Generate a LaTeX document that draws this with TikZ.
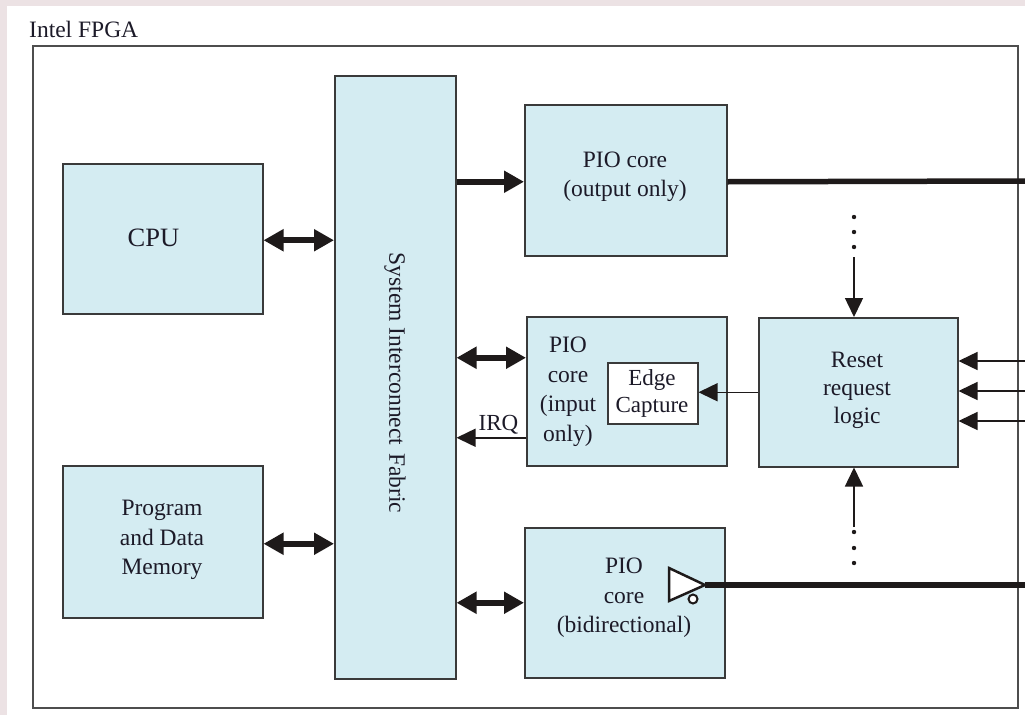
\documentclass[tikz,border=0pt]{standalone}
\usepackage{fontspec}
\setmainfont{Liberation Serif}
\usetikzlibrary{arrows.meta,calc}
\definecolor{bgpink}{RGB}{236,226,228}
\definecolor{boxfill}{RGB}{212,236,242}
\definecolor{boxline}{RGB}{58,58,58}
\definecolor{txt}{RGB}{28,26,40}
\definecolor{arr}{RGB}{30,26,26}
\tikzset{
  blk/.style={draw=boxline, fill=boxfill, line width=1.5pt, inner sep=0pt, anchor=north west},
  lbl/.style={align=center, text=txt, inner sep=0pt, font=\fontsize{23.5}{29.5}\selectfont},
  thickdbl/.style={draw=arr, line width=6pt, {Triangle[length=20pt,width=21pt]}-{Triangle[length=20pt,width=21pt]}},
  thickone/.style={draw=arr, line width=6pt, -{Triangle[length=20pt,width=21pt]}},
  thinarr/.style={draw=arr, line width=1.5pt, -{Triangle[length=19pt,width=18pt]}},
  busline/.style={draw=arr, line width=5.5pt},
  dotmark/.style={fill=arr},
}
\begin{document}
\begin{tikzpicture}[x=1pt,y=-1pt]
\useasboundingbox (0,0) rectangle (1025,715);
\fill[bgpink] (0,0) rectangle (1025,715);
\fill[white] (7,6) rectangle (1025,715);

% outer FPGA box
\node[draw=boxline!90, line width=2pt, minimum width=985pt, minimum height=662pt, inner sep=0pt, anchor=north west] (fpga) at (32,45) {};
\node[lbl, anchor=base west] (title) at (29,37) {Intel FPGA};

% blocks
\node[blk, minimum width=200pt, minimum height=150pt] (cpu) at (62,163) {};
\node[lbl, font=\fontsize{26.5}{30}\selectfont] (cpuT) at (153.5,237.5) {CPU};

\node[blk, minimum width=200pt, minimum height=152pt] (mem) at (62,465) {};
\node[lbl] (memT) at (162,540) {Program\\and Data\\Memory};

\node[blk, minimum width=121pt, minimum height=603pt] (fab) at (334,75) {};
\node[lbl, rotate=-90] (fabT) at (395,383) {System Interconnect\hspace{0.35em}Fabric};

\node[blk, minimum width=202pt, minimum height=151pt] (pioout) at (524,104) {};
\node[lbl] (piooutT) at (625,177) {PIO core\\(output only)};

\node[blk, minimum width=200pt, minimum height=149pt] (pioin) at (526,316) {};
\node[lbl] (pioinT) at (568,391.5) {PIO\\core\\(input\\only)};
\node[draw=boxline, fill=white, line width=1.5pt, inner sep=0pt, anchor=north west, minimum width=90pt, minimum height=61pt] (edge) at (607,362) {};
\node[lbl, font=\fontsize{23}{27}\selectfont] (edgeT) at (652,393) {Edge\\Capture};

\node[blk, minimum width=199pt, minimum height=149pt] (reset) at (758,317) {};
\node[lbl, font=\fontsize{23.5}{28}\selectfont] (resetT) at (857,390) {Reset\\request\\logic};

\node[blk, minimum width=200pt, minimum height=150pt] (piobi) at (524,527) {};
\node[lbl] (piobiT) at (624,598) {PIO\\core\\(bidirectional)};

% connectors to fabric
\coordinate (cpuA) at ([yshift=-1.5pt]cpu.east);
\draw[thickdbl] (cpuA) -- (cpuA -| fab.west);
\coordinate (memA) at ([yshift=-2pt]mem.east);
\draw[thickdbl] (memA) -- (memA -| fab.west);
\coordinate (outA) at ([yshift=-1.5pt]pioout.west);
\draw[thickone] (outA -| fab.east) -- (outA);
\coordinate (inA) at ([yshift=33.5pt]pioin.west);
\draw[thickdbl] (inA -| fab.east) -- (inA);
\coordinate (irqA) at ([yshift=-46.5pt]pioin.west);
\draw[thinarr] (irqA) -- (irqA -| fab.east);
\node[lbl, font=\fontsize{23}{27}\selectfont, anchor=base] (irqT) at (498.5,430) {IRQ};
\draw[thickdbl] (piobi.west -| fab.east) -- (piobi.west);

% PIO output bus
\coordinate (outR) at (1025,181);
\draw[busline] (outA -| pioout.east) -- (outR);

% reset request logic
\draw[thinarr] (reset.west) -- (reset.west -| edge.east);
\coordinate (r1) at (1025,361);
\coordinate (r2) at (1025,391);
\coordinate (r3) at (1025,421);
\draw[thinarr] (r1) -- (r1 -| reset.east);
\draw[thinarr] (r2) -- (r2 -| reset.east);
\draw[thinarr] (r3) -- (r3 -| reset.east);

\coordinate (topA) at (854,257);
\draw[thinarr] (topA) -- (topA |- reset.north);
\foreach \yy in {217,232,247} \fill[dotmark] (854,\yy) circle (2.2pt);
\coordinate (botA) at (854,527);
\draw[thinarr] (botA) -- (botA |- reset.south);
\foreach \yy in {532,548,563} \fill[dotmark] (854,\yy) circle (2.2pt);

% bidirectional buffer
\coordinate (bufTip) at (705,585);
\coordinate (biR) at (1025,585);
\draw[busline] (bufTip) -- (biR);
\draw[draw=arr, fill=white, line width=2.5pt, line join=miter] (669,568) -- (669,601) -- (bufTip) -- cycle;
\draw[draw=arr, fill=white, line width=2pt] (693,599) circle (4.5pt);
\end{tikzpicture}
\end{document}
